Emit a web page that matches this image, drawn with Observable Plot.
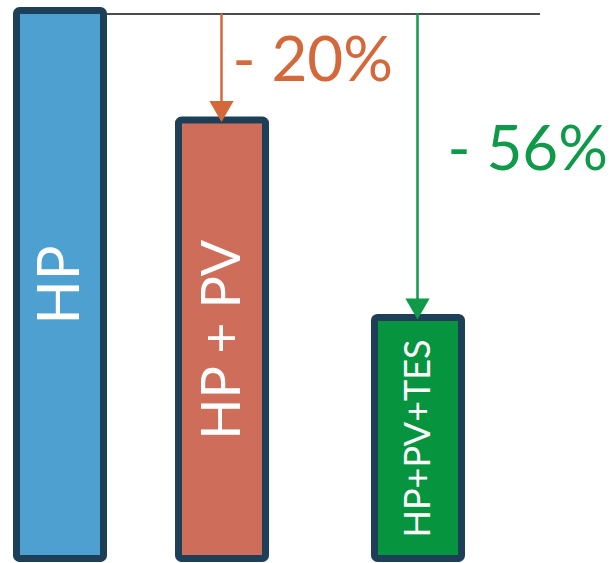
<!DOCTYPE html>
<html><head><meta charset="utf-8">
<script src="https://cdn.jsdelivr.net/npm/d3@7"></script>
<script src="https://cdn.jsdelivr.net/npm/@observablehq/plot@0.6"></script>
<style>html,body{margin:0;padding:0;background:#fff}#chart{width:613px;height:563px}</style>
</head><body><div id="chart"></div>
<script>
// Data (relative consumption, HP = 100)
const categories = ["HP", "HP + PV", "HP+PV+TES"];
const values = [100, 80, 44];
const reductionLabels = ["- 20%", "- 56%"];

const bars = categories.map((c, i) => ({name: c, slot: i, value: values[i]}));
const base = bars[0];
const drops = bars.slice(1).map((b, i) => ({...b, label: reductionLabels[i]}));

const barFill = ["#4EA0D0", "#CE6E5A", "#07943F"];
const arrowColor = ["#D3693B", "#0E9A48"];

const lastSlot = bars[bars.length - 1].slot;

const chart = Plot.plot({
  width: 613,
  height: 563,
  marginTop: 10.5,
  marginBottom: 4.5,
  marginLeft: 0,
  marginRight: 0,
  style: {fontFamily: "Lato, sans-serif", background: "#fff"},
  x: {type: "linear", domain: [0, 1, 2], range: [60, 222, 418], axis: null},
  y: {domain: [0, 100], axis: null},
  color: {domain: categories, range: barFill},
  marks: [
    Plot.ruleY([base], {y: "value", x1: () => base.slot, x2: () => lastSlot, insetRight: -122, dy: 3, stroke: "#111", strokeWidth: 1.4}),
    Plot.rect(bars, {x1: "slot", x2: "slot", y1: 0, y2: "value", insetLeft: -43.5, insetRight: -43.5, fill: "name", stroke: "#1D4058", strokeWidth: 7, rx: 3}),
    Plot.ruleX(drops, {x: "slot", y1: () => base.value, y2: "value", dx: -1, insetTop: 3, insetBottom: 12, stroke: (d, i) => arrowColor[i], strokeWidth: 2.5}),
    Plot.dot(drops, {x: "slot", y: "value", dx: -1, dy: -12.5, symbol: "triangle", r: 9, rotate: 180, fill: (d, i) => arrowColor[i], stroke: "none"}),
    Plot.text(bars, {x: "slot", y: d => d.value / 2, text: "name", rotate: -90, fill: "white", fontSize: (d, i) => [58, 54, 36][i]}),
    Plot.text([drops[0]], {x: "slot", y: d => (base.value + d.value) / 2, text: "label", textAnchor: "start", dx: 10, dy: -5, fill: arrowColor[0], fontSize: 62}),
    Plot.text([drops[1]], {x: "slot", y: d => (base.value + d.value) / 2, text: "label", textAnchor: "start", dx: 29, dy: -14, fill: arrowColor[1], fontSize: 62})
  ]
});
document.getElementById("chart").appendChild(chart);
</script>
</body></html>
